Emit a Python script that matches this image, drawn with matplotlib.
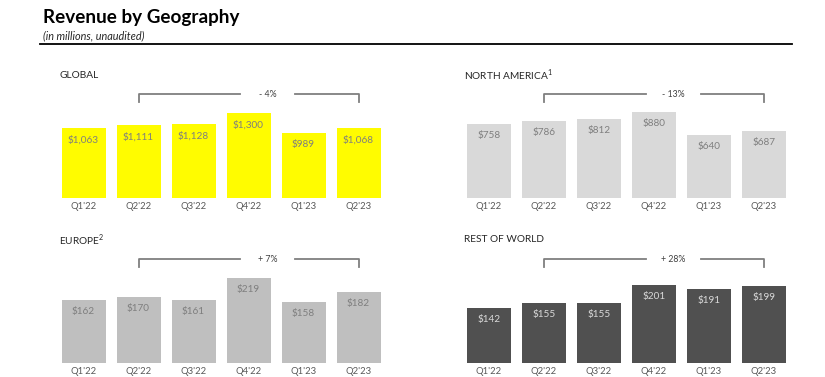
import matplotlib.pyplot as plt

quarters = ["Q1'22", "Q2'22", "Q3'22", "Q4'22", "Q1'23", "Q2'23"]

global_rev = [1063, 1111, 1128, 1300, 989, 1068]
north_america_rev = [758, 786, 812, 880, 640, 687]
europe_rev = [162, 170, 161, 219, 158, 182]
rest_of_world_rev = [142, 155, 155, 201, 191, 199]

global_change = "- 4%"
north_america_change = "- 13%"
europe_change = "+ 7%"
rest_of_world_change = "+ 28%"

W, H = 825, 377
plt.rcParams["font.family"] = ["Lato", "DejaVu Sans"]

fig = plt.figure(figsize=(W / 100, H / 100), dpi=100)


def px_axes(left, bottom, width, height):
    # pixel coords measured from the top-left corner
    return fig.add_axes([left / W, (H - bottom) / H, width / W, height / H])


def draw_panel(left, bottom, title, sup, values, ymax, color, label_color, change):
    ax = px_axes(left, bottom, 330, 110)
    x = list(range(len(values)))
    ax.bar(x, values, width=0.8, color=color)
    ax.set_xlim(-0.5, 5.5)
    ax.set_ylim(0, ymax)
    for xi, v in zip(x, values):
        ax.annotate(f"${v:,}", (xi, v), xytext=(0, -5), textcoords="offset points",
                    ha="center", va="top", fontsize=7.2, color=label_color)
    ax.set_xticks(x)
    ax.set_xticklabels(quarters, fontsize=6.8, color="#595959")
    ax.tick_params(axis="x", length=0, pad=3)
    ax.set_yticks([])
    for s in ax.spines.values():
        s.set_visible(False)

    # bracket from Q2'22 to Q2'23
    yb, yt = 0.945, 0.87
    tr = ax.get_xaxis_transform()
    kw = dict(color="#7f7f7f", lw=1.3, transform=tr, clip_on=False)
    ax.plot([1, 1, 2.85], [yt, yb, yb], **kw)
    ax.plot([3.85, 5, 5], [yb, yb, yt], **kw)
    ax.text(3.35, yb, change, transform=tr, ha="center", va="center",
            fontsize=6.3, color="#404040")

    # panel title
    label = title + (r"$^{\mathregular{" + sup + "}}$" if sup else "")
    fig.text((left + 3) / W, (H - bottom + 123) / H, label,
             fontsize=7.3, color="#262626", va="center")
    return ax


panels = [
    (56, 198, "GLOBAL", "", global_rev, 1682, "#fffc00", "#7f7f7f", global_change),
    (461.5, 198, "NORTH AMERICA", "1", north_america_rev, 1126, "#d9d9d9", "#7f7f7f", north_america_change),
    (56, 363, "EUROPE", "2", europe_rev, 283, "#bfbfbf", "#7f7f7f", europe_change),
    (461.5, 363, "REST OF WORLD", "", rest_of_world_rev, 283, "#505050", "#d9d9d9", rest_of_world_change),
]
for spec in panels:
    draw_panel(*spec)

# header
fig.text(43 / W, 1 - 18 / H, "Revenue by Geography", fontsize=13.6, fontweight="bold",
         color="black", va="center")
fig.text(43 / W, 1 - 36 / H, "(in millions, unaudited)", fontsize=7.8, style="italic",
         color="#262626", va="center")
fig.add_artist(plt.Line2D([40 / W, 792 / W], [1 - 44 / H, 1 - 44 / H], color="black", lw=1.3))

fig.savefig("out.png", dpi=100)
